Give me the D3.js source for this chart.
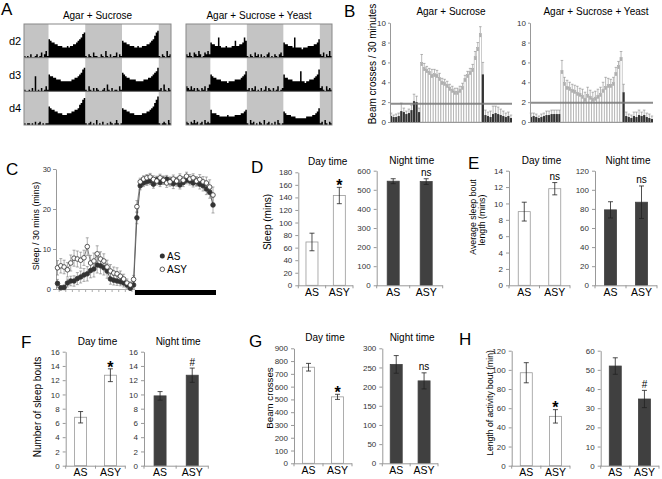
<!DOCTYPE html>
<html>
<head>
<meta charset="utf-8">
<script src="https://cdn.jsdelivr.net/npm/d3@7"></script>
<style>
  body { margin: 0; background: #fff; }
  svg { display: block; font-family: "Liberation Sans", Arial, sans-serif; }
</style>
</head>
<body>
<svg id="fig" width="662" height="479"></svg>
<script>
const W = 662
const H = 479
const font = '"Liberation Sans", Arial, sans-serif'

// ---- A: actograms, one char per 30 min bin, 0..J = 0..19 twentieths of row height ----
const actoCode = '0123456789ABCDEFGHIJ'
const actoRows = ['d2', 'd3', 'd4']
const actoNightBins = [[0, 16], [40, 64], [88, 96]]
const actoAS = [
  '1010200120130241' + 'BA99887776667677889ABCEF' + '102103110021041020113021' + 'A998877766766777889ABDFG' + '10210412',
  '1001020901020131' + 'A9988777666666677889ABDE' + '103102021001204102011031' + 'BA988777766666777889ABCE' + '12041021',
  '1011010201201011' + 'BA99887776667778899ACDFG' + '101201030102001021013101' + 'A998877766666777889ABDFH' + '10121031'
]
const actoASY = [
  '2131032142013242' + '98877C7666766677A77889CA' + '102103120201023010210231' + '9887776C666656667777889B' + '21302141',
  '3213120210213024' + 'A988777666656666777789AC' + '120213010201302102013012' + 'A8877766666C6656677789AD' + '23103121',
  '2102131201203121' + '977766555556555566667789' + '103120102103012010203101' + '87666555444444455556678A' + '12031021'
]

// ---- B: beam crosses per 30 min (bins 12..35 lights on) ----
const beamDayBins = [12, 36]
const beamLine = [1.85, 1.95]
const beamAS = [0.6, 0.5, 0.5, 0.6, 1.1, 1.0, 0.8, 0.9, 1.2, 2.1, 2.0, 1.0,
  6.0, 5.5, 5.3, 5.1, 4.8, 4.9, 4.8, 4.5, 4.1, 4.0, 3.8, 3.5, 3.3, 3.1, 3.1, 3.3, 3.6, 4.4, 4.8, 5.1, 5.4, 6.6, 7.5, 8.9,
  4.8, 0.7, 0.6, 0.5, 0.8, 0.9, 0.8, 0.7, 0.6, 0.5, 0.6, 0.4]
const beamASerr = [0.3, 0.2, 0.3, 0.3, 0.8, 0.4, 0.3, 0.4, 0.5, 0.7, 0.6, 0.4,
  0.8, 0.4, 0.3, 0.3, 0.5, 0.4, 0.4, 0.4, 0.3, 0.3, 0.3, 0.3, 0.3, 0.3, 0.3, 0.3, 0.3, 0.3, 0.3, 0.3, 0.4, 0.5, 0.5, 0.7,
  1.2, 0.5, 0.4, 0.6, 0.8, 0.7, 0.7, 0.6, 0.5, 0.4, 0.4, 0.3]
const beamASY = [0.5, 0.6, 0.5, 0.4, 0.5, 0.6, 0.7, 0.7, 0.8, 0.8, 0.8, 0.8,
  5.2, 4.0, 3.6, 3.5, 3.3, 3.2, 3.0, 2.9, 2.7, 2.4, 2.8, 2.6, 2.4, 2.5, 2.7, 2.9, 3.3, 3.6, 3.8, 3.8, 4.0, 5.0, 5.7, 6.5,
  3.0, 0.6, 0.5, 0.4, 0.6, 0.5, 0.7, 0.6, 0.7, 0.5, 0.4, 0.3]
const beamASYerr = [0.4, 0.3, 0.3, 0.2, 0.3, 0.3, 0.4, 0.4, 0.4, 0.4, 0.4, 0.4,
  1.0, 0.5, 0.6, 0.5, 0.5, 0.5, 0.6, 0.5, 0.6, 0.6, 0.7, 0.6, 0.6, 0.6, 0.6, 0.6, 0.7, 0.9, 0.6, 0.5, 0.5, 0.5, 0.4, 0.6,
  0.8, 0.4, 0.3, 0.3, 0.4, 0.5, 0.5, 0.4, 0.5, 0.4, 0.4, 0.3]

// ---- C: sleep per 30 min, 24 day bins then 24 night bins ----
const sleepAS = [1.4, 0.3, 0.4, 1.5, 2.0, 2.0, 2.6, 3.0, 3.5, 3.8, 4.6, 5.0, 6.0, 5.8, 5.3, 4.5, 2.5, 2.2, 2.0, 1.8, 1.5, 1.0, 0.2, 1.0,
  17.8, 25.8, 26.5, 26.8, 27.0, 26.2, 27.3, 26.6, 27.2, 27.5, 27.0, 26.3, 26.8, 26.0, 26.6, 27.2, 27.0, 26.5, 26.8, 26.2, 25.8, 25.0, 24.2, 21.0]
const sleepASerr = [1.0, 0.5, 0.6, 1.0, 1.2, 1.3, 1.5, 1.5, 1.6, 1.8, 1.8, 2.0, 2.0, 2.0, 1.8, 1.8, 1.3, 1.2, 1.1, 1.0, 1.0, 0.8, 0.5, 0.8,
  1.5, 1.0, 0.9, 0.9, 0.9, 1.0, 0.9, 1.0, 1.0, 0.9, 1.0, 1.2, 1.1, 1.0, 1.0, 0.9, 1.0, 1.0, 1.1, 1.2, 1.3, 1.4, 1.5, 2.0]
const sleepASY = [5.3, 5.8, 5.5, 4.8, 6.5, 7.7, 7.5, 7.2, 7.8, 10.6, 6.5, 7.0, 8.8, 7.5, 7.0, 5.5, 4.5, 4.0, 3.8, 3.2, 2.5, 1.5, 1.0, 2.4,
  20.6, 26.8, 27.5, 27.8, 28.0, 27.4, 27.0, 27.8, 27.2, 26.5, 26.8, 27.5, 27.0, 27.8, 27.2, 28.2, 27.5, 27.8, 27.0, 27.4, 26.8, 26.5, 25.5, 23.5]
const sleepASYerr = [1.8, 1.8, 1.7, 1.8, 2.0, 2.0, 2.0, 2.0, 1.9, 2.2, 1.9, 2.0, 2.0, 1.8, 1.8, 1.7, 1.6, 1.5, 1.5, 1.3, 1.2, 1.0, 0.8, 1.0,
  1.5, 0.9, 0.8, 0.8, 0.9, 0.9, 1.0, 0.9, 1.0, 1.1, 1.1, 1.0, 0.9, 1.0, 0.9, 1.0, 1.1, 1.0, 1.1, 1.2, 1.3, 1.5, 1.8, 2.0]

// ---- D-H: group means ----
const groups = ['AS', 'ASY']
const sleepDay = [69, 143], sleepDayErr = [14, 13], sleepDayMark = '*'
const sleepNight = [545, 543], sleepNightErr = [13, 15], sleepNightMark = 'ns'
const boutLenDay = [9.0, 11.8], boutLenDayErr = [1.15, 0.75], boutLenDayMark = 'ns'
const boutLenNight = [79, 87], boutLenNightErr = [8.5, 17], boutLenNightMark = 'ns'
const boutsDay = [6.8, 12.7], boutsDayErr = [0.8, 0.9], boutsDayMark = '*'
const boutsNight = [9.8, 12.7], boutsNightErr = [0.6, 1.0], boutsNightMark = '#'
const beamDay = [752, 520], beamDayErr = [30, 20], beamDayMark = '*'
const beamNight = [258, 215], beamNightErr = [23, 21], beamNightMark = 'ns'
const actBoutDay = [97, 51.5], actBoutDayErr = [10.5, 7], actBoutDayMark = '*'
const actBoutNight = [52, 34.8], actBoutNightErr = [4.3, 4.5], actBoutNightMark = '#'

const svg = d3.select('#fig')
svg.append('rect').attr('width', W).attr('height', H).attr('fill', '#fff')

function text (x, y, txt, size, anchor, weight) {
  return svg.append('text')
    .attr('x', x).attr('y', y)
    .attr('font-size', size)
    .attr('text-anchor', anchor || 'start')
    .attr('font-weight', weight || 'normal')
    .text(txt)
}

function vtext (x, y, txt, size) {
  svg.append('text')
    .attr('transform', `translate(${x},${y}) rotate(-90)`)
    .attr('text-anchor', 'middle')
    .attr('font-size', size)
    .text(txt)
}

function styleAxis (ax, size) {
  ax.attr('font-family', font).attr('font-size', size)
  ax.select('.domain').attr('stroke', '#999')
  ax.selectAll('.tick line').attr('stroke', '#999')
  ax.selectAll('.tick text').attr('fill', '#333')
}

// panel letters
const letters = [['A', 1, 15], ['B', 344, 17], ['C', 6, 175], ['D', 251, 173],
  ['E', 468, 169], ['F', 21, 348], ['G', 249, 347], ['H', 459, 345]]
letters.forEach(l => text(l[1], l[2], l[0], 17))

// ---------- A ----------
const actoBoxes = [
  { x0: 24, x1: 171, rows: actoAS, title: 'Agar + Sucrose' },
  { x0: 186, x1: 332, rows: actoASY, title: 'Agar + Sucrose + Yeast' }
]
actoBoxes.forEach(b => {
  const x = d3.scaleLinear().domain([0, 96]).range([b.x0, b.x1])
  const row = d3.scaleBand().domain(actoRows).range([24, 125])
  const rh = row.bandwidth()
  const h = d3.scaleLinear().domain([0, 20]).range([0, rh])
  const g = svg.append('g')
  actoRows.forEach((d, r) => {
    const y0 = row(d)
    g.selectAll(null).data(actoNightBins).enter().append('rect')
      .attr('x', n => x(n[0])).attr('width', n => x(n[1]) - x(n[0]))
      .attr('y', y0).attr('height', rh)
      .attr('fill', '#c4c4c4')
    const vals = b.rows[r].split('').map(c => actoCode.indexOf(c))
    const pts = vals.concat([vals[vals.length - 1]])
    g.append('path').datum(pts)
      .attr('d', d3.area().curve(d3.curveStepAfter)
        .x((v, i) => x(i)).y0(y0 + rh).y1(v => y0 + rh - h(v)))
      .attr('fill', '#000')
    if (r > 0) {
      g.append('line').attr('x1', b.x0).attr('x2', b.x1).attr('y1', y0).attr('y2', y0)
        .attr('stroke', '#666').attr('stroke-width', 1)
    }
  })
  g.append('rect').attr('x', b.x0).attr('y', 24).attr('width', b.x1 - b.x0).attr('height', 101)
    .attr('fill', 'none').attr('stroke', '#888').attr('stroke-width', 1)
  text((b.x0 + b.x1) / 2, 19, b.title, 10, 'middle')
})
actoRows.forEach((d, r) => text(9, 24 + 101 / 3 * (r + 0.5) + 4, d, 11))

// ---------- B ----------
const beamPanels = [
  { x0: 390, x1: 512, vals: beamAS, errs: beamASerr, line: beamLine[0], title: 'Agar + Sucrose', tx: 451 },
  { x0: 530, x1: 653, vals: beamASY, errs: beamASYerr, line: beamLine[1], title: 'Agar + Sucrose + Yeast', tx: 596 }
]
beamPanels.forEach(p => {
  const x = d3.scaleBand().domain(d3.range(p.vals.length)).range([p.x0, p.x1]).paddingInner(0.15)
  const y = d3.scaleLinear().domain([0, 10]).range([122, 22.7])
  const isDay = i => i >= beamDayBins[0] && i < beamDayBins[1]
  const g = svg.append('g')
  const bw = x.bandwidth()

  // error bars (upper)
  const eb = g.selectAll(null).data(p.vals).enter().append('g')
  eb.append('line')
    .attr('x1', (v, i) => x(i) + bw / 2).attr('x2', (v, i) => x(i) + bw / 2)
    .attr('y1', v => y(v)).attr('y2', (v, i) => y(v + p.errs[i]))
    .attr('stroke', '#888').attr('stroke-width', 0.6)
  eb.append('line')
    .attr('x1', (v, i) => x(i) + bw / 2 - 1.3).attr('x2', (v, i) => x(i) + bw / 2 + 1.3)
    .attr('y1', (v, i) => y(v + p.errs[i])).attr('y2', (v, i) => y(v + p.errs[i]))
    .attr('stroke', '#888').attr('stroke-width', 0.6)

  g.selectAll(null).data(p.vals).enter().append('rect')
    .attr('x', (v, i) => x(i)).attr('width', bw)
    .attr('y', v => y(v)).attr('height', v => y(0) - y(v))
    .attr('fill', (v, i) => isDay(i) ? '#fff' : '#333')
    .attr('stroke', (v, i) => isDay(i) ? '#9a9a9a' : 'none')
    .attr('stroke-width', 0.5)
  g.selectAll(null).data(p.vals).enter().filter((v, i) => isDay(i)).append('rect')
    .attr('x', (v, i) => x(i + beamDayBins[0])).attr('width', bw)
    .attr('y', v => y(v)).attr('height', 3.5)
    .attr('fill', '#b0b0b0')

  g.append('line').attr('x1', p.x0).attr('x2', p.x1)
    .attr('y1', y(p.line)).attr('y2', y(p.line))
    .attr('stroke', '#7a7a7a').attr('stroke-width', 2).attr('opacity', 0.85)

  g.append('line').attr('x1', p.x0).attr('x2', p.x1).attr('y1', y(0) + 0.5).attr('y2', y(0) + 0.5)
    .attr('stroke', '#999')
  const ax = g.append('g').attr('transform', `translate(${p.x0},0)`)
    .call(d3.axisLeft(y).tickValues(d3.range(0, 11, 2)).tickSize(2).tickSizeOuter(0).tickPadding(2))
  styleAxis(ax, 8)
  text(p.tx, 15, p.title, 10, 'middle')
})
vtext(376, 64, 'Beam crosses / 30 minutes', 10)

// ---------- C ----------
{
  const x = d3.scaleLinear().domain([0, 47]).range([57.5, 213])
  const y = d3.scaleLinear().domain([0, 30]).range([289, 169])
  const g = svg.append('g')
  const ax = g.append('g').attr('transform', 'translate(56,0)')
    .call(d3.axisLeft(y).tickValues([0, 10, 20, 30]).tickSize(3).tickSizeOuter(0).tickPadding(2))
  styleAxis(ax, 7.5)
  g.append('line').attr('x1', 56).attr('x2', x(23.5)).attr('y1', 289.5).attr('y2', 289.5).attr('stroke', '#aaa')
  g.selectAll(null).data(d3.range(1, 24, 2)).enter().append('line')
    .attr('x1', i => x(i - 0.5)).attr('x2', i => x(i - 0.5)).attr('y1', 289.5).attr('y2', 292)
    .attr('stroke', '#aaa')
  g.append('rect').attr('x', x(23.4)).attr('y', 290).attr('width', x(47) - x(23.4) + 3).attr('height', 5).attr('fill', '#000')

  const series = [
    { vals: sleepAS, errs: sleepASerr, fill: '#333', line: '#333' },
    { vals: sleepASY, errs: sleepASYerr, fill: '#fff', line: '#666' }
  ]
  series.forEach(s => {
    const eb = g.selectAll(null).data(s.vals).enter().append('g').attr('stroke', '#777').attr('stroke-width', 0.6)
    eb.append('line').attr('x1', (v, i) => x(i)).attr('x2', (v, i) => x(i))
      .attr('y1', (v, i) => y(v - s.errs[i])).attr('y2', (v, i) => y(v + s.errs[i]))
    eb.append('line').attr('x1', (v, i) => x(i) - 1.5).attr('x2', (v, i) => x(i) + 1.5)
      .attr('y1', (v, i) => y(v + s.errs[i])).attr('y2', (v, i) => y(v + s.errs[i]))
    eb.append('line').attr('x1', (v, i) => x(i) - 1.5).attr('x2', (v, i) => x(i) + 1.5)
      .attr('y1', (v, i) => y(v - s.errs[i])).attr('y2', (v, i) => y(v - s.errs[i]))
  })
  series.forEach(s => {
    g.append('path').datum(s.vals)
      .attr('d', d3.line().x((v, i) => x(i)).y(v => y(v)))
      .attr('fill', 'none').attr('stroke', s.line).attr('stroke-width', 0.8)
  })
  series.forEach(s => {
    g.selectAll(null).data(s.vals).enter().append('circle')
      .attr('cx', (v, i) => x(i)).attr('cy', v => y(v)).attr('r', 2.3)
      .attr('fill', s.fill).attr('stroke', '#333').attr('stroke-width', 0.8)
  })
  g.append('circle').attr('cx', 162.3).attr('cy', 256).attr('r', 2.5).attr('fill', '#333')
  g.append('circle').attr('cx', 162.3).attr('cy', 269.3).attr('r', 2.3).attr('fill', '#fff').attr('stroke', '#333').attr('stroke-width', 0.8)
  text(167, 259.8, 'AS', 10)
  text(167, 273, 'ASY', 10)
  vtext(39, 226, 'Sleep / 30 mins (mins)', 8.9)
}

// ---------- D-H ----------
const barPanels = [
  { x0: 298.3, x1: 353, yBot: 285.3, yTop: 172.3, max: 180, step: 20, vals: sleepDay, errs: sleepDayErr, dark: false, mark: sleepDayMark, title: 'Day time' },
  { x0: 376.7, x1: 442.7, yBot: 285.3, yTop: 170.7, max: 600, step: 100, vals: sleepNight, errs: sleepNightErr, dark: true, mark: sleepNightMark, title: 'Night time' },
  { x0: 509, x1: 570, yBot: 285.3, yTop: 170.7, max: 14, step: 2, vals: boutLenDay, errs: boutLenDayErr, dark: false, mark: boutLenDayMark, title: 'Day time' },
  { x0: 595, x1: 657, yBot: 285.3, yTop: 170.7, max: 120, step: 20, vals: boutLenNight, errs: boutLenNightErr, dark: true, mark: boutLenNightMark, title: 'Night time' },
  { x0: 65.7, x1: 125.3, yBot: 465.7, yTop: 351.7, max: 16, step: 2, vals: boutsDay, errs: boutsDayErr, dark: false, mark: boutsDayMark, title: 'Day time' },
  { x0: 144, x1: 208.3, yBot: 465.7, yTop: 351.7, max: 16, step: 2, vals: boutsNight, errs: boutsNightErr, dark: true, mark: boutsNightMark, title: 'Night time' },
  { x0: 294, x1: 352, yBot: 463.3, yTop: 348.3, max: 900, step: 100, vals: beamDay, errs: beamDayErr, dark: false, mark: beamDayMark, title: 'Day time' },
  { x0: 382.3, x1: 438, yBot: 463.3, yTop: 348.3, max: 300, step: 50, vals: beamNight, errs: beamNightErr, dark: true, mark: beamNightMark, title: 'Night time' },
  { x0: 511.7, x1: 570, yBot: 465.7, yTop: 350.7, max: 120, step: 20, vals: actBoutDay, errs: actBoutDayErr, dark: false, mark: actBoutDayMark, title: '' },
  { x0: 600.7, x1: 659, yBot: 465.7, yTop: 350.7, max: 60, step: 10, vals: actBoutNight, errs: actBoutNightErr, dark: true, mark: actBoutNightMark, title: '' }
]

barPanels.forEach(p => {
  const x = d3.scalePoint().domain(groups).range([p.x0, p.x1]).padding(0.5)
  const y = d3.scaleLinear().domain([0, p.max]).range([p.yBot, p.yTop])
  const g = svg.append('g')
  const bw = 12

  g.selectAll(null).data(p.vals).enter().append('rect')
    .attr('x', (v, i) => x(groups[i]) - bw / 2).attr('width', bw)
    .attr('y', v => y(v)).attr('height', v => y(0) - y(v))
    .attr('fill', p.dark ? '#404040' : '#fff')
    .attr('stroke', p.dark ? '#404040' : '#999').attr('stroke-width', 0.8)

  const eb = g.selectAll(null).data(p.vals).enter().append('g').attr('stroke', '#222').attr('stroke-width', 0.8)
  eb.append('line').attr('x1', (v, i) => x(groups[i])).attr('x2', (v, i) => x(groups[i]))
    .attr('y1', (v, i) => y(v - p.errs[i])).attr('y2', (v, i) => y(v + p.errs[i]))
  eb.append('line').attr('x1', (v, i) => x(groups[i]) - 2.5).attr('x2', (v, i) => x(groups[i]) + 2.5)
    .attr('y1', (v, i) => y(v + p.errs[i])).attr('y2', (v, i) => y(v + p.errs[i]))
  eb.append('line').attr('x1', (v, i) => x(groups[i]) - 2.5).attr('x2', (v, i) => x(groups[i]) + 2.5)
    .attr('y1', (v, i) => y(v - p.errs[i])).attr('y2', (v, i) => y(v - p.errs[i]))

  const ax = g.append('g').attr('transform', `translate(${p.x0},0)`)
    .call(d3.axisLeft(y).tickValues(d3.range(0, p.max + p.step / 2, p.step)).tickSize(3).tickSizeOuter(0).tickPadding(3))
  styleAxis(ax, 8)

  const xa = [p.x0, (p.x0 + p.x1) / 2, p.x1]
  g.append('line').attr('x1', p.x0).attr('x2', p.x1).attr('y1', p.yBot + 0.5).attr('y2', p.yBot + 0.5).attr('stroke', '#999')
  g.selectAll(null).data(xa).enter().append('line')
    .attr('x1', d => d).attr('x2', d => d).attr('y1', p.yBot).attr('y2', p.yBot + 3).attr('stroke', '#999')
  groups.forEach(gr => text(x(gr), p.yBot + 10.5, gr, 10.5, 'middle'))

  const top = y(p.vals[1] + p.errs[1])
  if (p.mark === '*') text(x('ASY'), top + 3.7, '*', 16, 'middle', 'bold')
  else text(x('ASY'), top - 2.5, p.mark, 10, 'middle')

  if (p.title) text((p.x0 + p.x1) / 2 + 2, p.yTop - 7, p.title, 10, 'middle')
})

vtext(271, 222, 'Sleep (mins)', 10)
vtext(475.5, 217, 'Average sleep bout', 8.8)
vtext(485, 220, 'length (mins)', 8.8)
vtext(41.3, 407, 'Number of sleep bouts', 10)
vtext(273, 398, 'Beam crosses', 9.7)
vtext(493, 403, 'Length of activity bout (min)', 8.6)
</script>
</body>
</html>
